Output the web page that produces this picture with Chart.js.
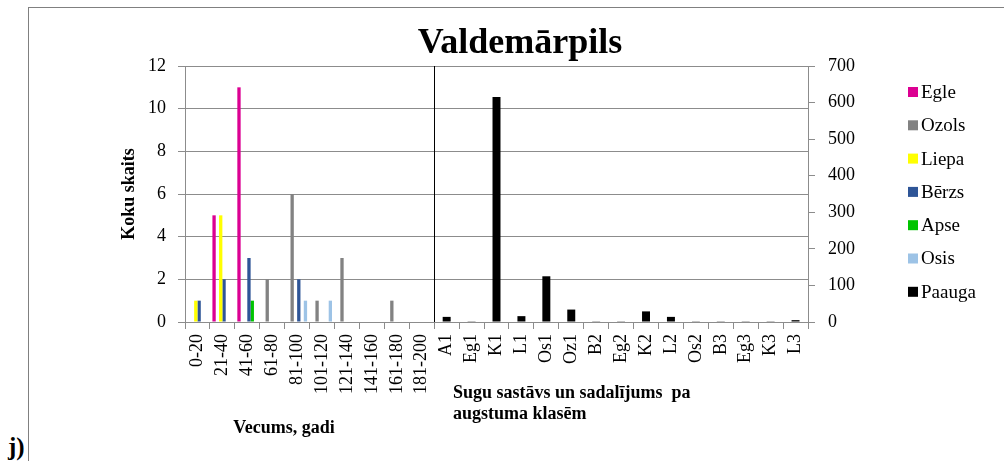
<!DOCTYPE html>
<html>
<head>
<meta charset="utf-8">
<script src="https://cdn.jsdelivr.net/npm/chart.js@4"></script>
<style>
  html, body { margin: 0; padding: 0; background: #fff; overflow: hidden; }
  #wrap { position: relative; width: 1004px; height: 461px; overflow: hidden; }
  #frame { position: absolute; left: 28px; top: 7px; width: 1000px; height: 480px;
           border-left: 1px solid #808080; border-top: 1px solid #808080; }
  #mark { position: absolute; left: 8px; top: 432px; font: bold 25px "Liberation Serif", serif; line-height: 30px; }
  canvas { position: absolute; left: 0; top: 0; }
</style>
</head>
<body>
<div id="wrap">
  <div id="frame"></div>
  <span id="mark">j)</span>
  <canvas id="chart" width="1004" height="461"></canvas>
</div>
<script>
// vecuma grupas (kreisā ass)
const ageLabels = ["0-20", "21-40", "41-60", "61-80", "81-100", "101-120",
  "121-140", "141-160", "161-180", "181-200"];
// sugas un augstuma klases (labā ass)
const classLabels = ["A1", "Eg1", "K1", "L1", "Os1", "Oz1", "B2", "Eg2", "K2",
  "L2", "Os2", "B3", "Eg3", "K3", "L3"];

const egle  = [0, 5, 11, 0, 0, 0, 0, 0, 0, 0];
const ozols = [0, 0, 0, 2, 6, 1, 3, 0, 1, 0];
const liepa = [1, 5, 0, 0, 0, 0, 0, 0, 0, 0];
const berzs = [1, 2, 3, 0, 2, 0, 0, 0, 0, 0];
const apse  = [0, 0, 1, 0, 0, 0, 0, 0, 0, 0];
const osis  = [0, 0, 0, 0, 1, 1, 0, 0, 0, 0];
const paauga = [14, 2, 615, 16, 125, 34, 2, 2, 29, 14, 2, 2, 2, 2, 5];

const leftTicks = { min: 0, max: 12, step: 2 };
const rightTicks = { min: 0, max: 700, step: 100 };

const serif = "'Liberation Serif', 'Times New Roman', serif";
const gridGray = "#8c8c8c";

const labels = ageLabels.concat(classLabels);
const padLeft = (arr) => arr.concat(classLabels.map(() => null));
const padRight = (arr) => ageLabels.map(() => null).concat(arr);

const ageSet = (label, data, color) => ({
  label: label,
  data: padLeft(data),
  backgroundColor: color,
  yAxisID: "y",
  categoryPercentage: 0.8,
  barPercentage: 1.0,
});

// virsraksti, leģenda un atdalošā līnija
const extras = {
  id: "extras",
  afterDraw(chart) {
    const ctx = chart.ctx;
    const area = chart.chartArea;
    const x = chart.scales.x;
    ctx.save();

    // atdalošā līnija starp abām daļām
    const sep = Math.round((x.getPixelForValue(9) + x.getPixelForValue(10)) / 2) + 0.5;
    ctx.strokeStyle = "#000";
    ctx.lineWidth = 1;
    ctx.beginPath();
    ctx.moveTo(sep, area.top);
    ctx.lineTo(sep, area.bottom);
    ctx.stroke();

    ctx.fillStyle = "#000";
    ctx.textBaseline = "alphabetic";
    ctx.textAlign = "center";
    ctx.font = "bold 36px " + serif;
    ctx.fillText("Valdemārpils", 520, 53);

    ctx.font = "bold 18px " + serif;
    ctx.fillText("Vecums, gadi", 284, 433);
    ctx.textAlign = "left";
    ctx.fillText("Sugu sastāvs un sadalījums  pa", 453, 398);
    ctx.fillText("augstuma klasēm", 453, 419);

    ctx.save();
    ctx.translate(134, 194);
    ctx.rotate(-Math.PI / 2);
    ctx.textAlign = "center";
    ctx.fillText("Koku skaits", 0, 0);
    ctx.restore();

    // leģenda
    ctx.font = "19px " + serif;
    ctx.textAlign = "left";
    ctx.textBaseline = "middle";
    chart.data.datasets.forEach((ds, i) => {
      const cy = 92 + i * 33.3;
      ctx.fillStyle = ds.backgroundColor;
      ctx.fillRect(908, cy - 5, 10, 10);
      ctx.fillStyle = "#000";
      ctx.fillText(ds.label, 921, cy + 1);
    });
    ctx.restore();
  },
};

new Chart(document.getElementById("chart"), {
  type: "bar",
  data: {
    labels: labels,
    datasets: [
      ageSet("Egle", egle, "#dc0092"),
      ageSet("Ozols", ozols, "#828282"),
      ageSet("Liepa", liepa, "#ffff00"),
      ageSet("Bērzs", berzs, "#2e5597"),
      ageSet("Apse", apse, "#00c400"),
      ageSet("Osis", osis, "#9dc3e6"),
      {
        label: "Paauga",
        data: padRight(paauga),
        backgroundColor: "#000000",
        yAxisID: "y2",
        grouped: false,
        categoryPercentage: 0.8,
        barPercentage: 0.4,
      },
    ],
  },
  options: {
    responsive: false,
    animation: false,
    layout: { padding: { top: 66, left: 0, right: 0, bottom: 0 } },
    plugins: {
      legend: { display: false },
      title: { display: false },
      tooltip: { enabled: false },
    },
    scales: {
      x: {
        afterFit: (s) => { s.height = 139; },
        grid: { offset: true, drawOnChartArea: false, tickLength: 7, color: gridGray },
        border: { color: gridGray },
        ticks: {
          autoSkip: false,
          minRotation: 90,
          maxRotation: 90,
          padding: 5,
          color: "#000",
          font: { family: serif, size: 18 },
        },
      },
      y: {
        position: "left",
        min: leftTicks.min,
        max: leftTicks.max,
        afterFit: (s) => { s.width = 185; },
        grid: { color: gridGray, tickLength: 7 },
        border: { color: gridGray },
        ticks: {
          stepSize: leftTicks.step,
          padding: 12,
          color: "#000",
          font: { family: serif, size: 18 },
        },
      },
      y2: {
        position: "right",
        min: rightTicks.min,
        max: rightTicks.max,
        afterFit: (s) => { s.width = 196; },
        grid: { drawOnChartArea: false, color: gridGray, tickLength: 7 },
        border: { color: gridGray },
        ticks: {
          stepSize: rightTicks.step,
          padding: 13,
          color: "#000",
          font: { family: serif, size: 18 },
        },
      },
    },
  },
  plugins: [extras],
});
</script>
</body>
</html>
